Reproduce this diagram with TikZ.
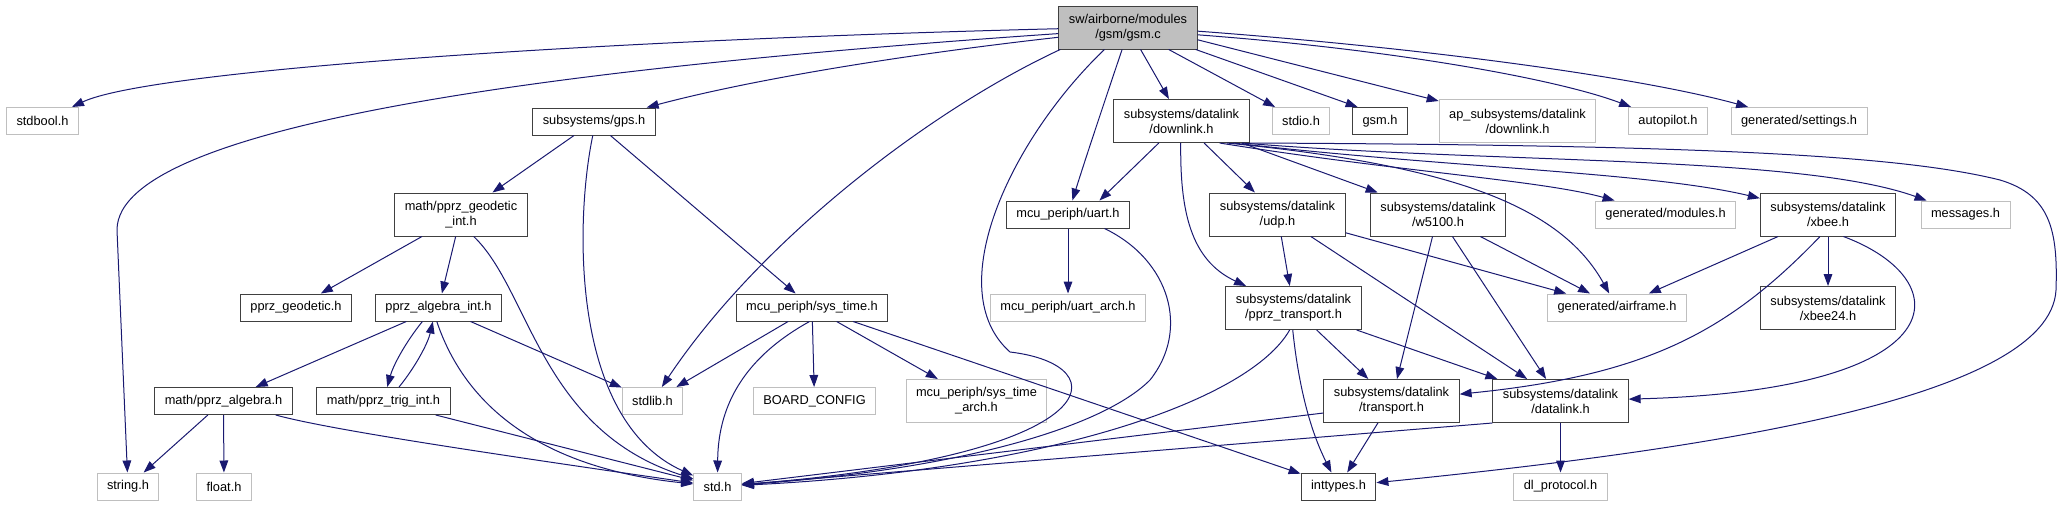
\documentclass[tikz,border=0pt]{standalone}
\usepackage{fontspec}
\setmainfont{Liberation Sans}
\usetikzlibrary{arrows.meta}
\definecolor{edgeblue}{RGB}{25,25,112}
\definecolor{docline}{RGB}{64,64,64}
\definecolor{extline}{RGB}{191,191,191}
\definecolor{rootfill}{RGB}{191,191,191}
\tikzset{
  filebox/.style={draw, line width=0.75pt, align=center, inner xsep=7.5pt, inner ysep=2pt,
                  minimum height=20.25pt, font=\fontsize{9.6}{11.25}\selectfont},
  docbox/.style={filebox, draw=docline},
  extbox/.style={filebox, draw=extline},
  rootbox/.style={filebox, draw=docline, fill=rootfill},
  twoline/.style={minimum height=32.25pt},
  dep/.style={-{Triangle[length=9pt,width=6.5pt]}, line width=0.75pt, draw=edgeblue},
}

\begin{document}
\begin{tikzpicture}[x=0.75pt, y=-0.75pt]
  \useasboundingbox (0,0) rectangle (2072,507);

  % top row
  \node[rootbox, twoline] (gsmc) at (1128,27.5) {sw/airborne/modules\\/gsm/gsm.c};
  \node[extbox] (stdbool) at (42.5,121) {stdbool.h};
  \node[docbox] (gps) at (594,121.5) {subsystems/gps.h};
  \node[docbox, twoline] (downlink) at (1181.5,121) {subsystems/datalink\\/downlink.h};
  \node[extbox] (stdio) at (1301,121) {stdio.h};
  \node[docbox] (gsmh) at (1380,121) {gsm.h};
  \node[extbox, twoline] (apdl) at (1517.5,121) {ap\_subsystems/datalink\\/downlink.h};
  \node[extbox] (autopilot) at (1668,121) {autopilot.h};
  \node[extbox] (settings) at (1799,121) {generated/settings.h};

  % second row
  \node[docbox, twoline] (geoint) at (461,214.5) {math/pprz\_geodetic\\\_int.h};
  \node[docbox] (uart) at (1068,214.5) {mcu\_periph/uart.h};
  \node[docbox, twoline] (udp) at (1277.5,214.5) {subsystems/datalink\\/udp.h};
  \node[docbox, twoline] (w5100) at (1438,214.5) {subsystems/datalink\\/w5100.h};
  \node[extbox] (modules) at (1665.5,214.5) {generated/modules.h};
  \node[docbox, twoline] (xbee) at (1828,214.5) {subsystems/datalink\\/xbee.h};
  \node[extbox] (messages) at (1965.5,214.5) {messages.h};

  % third row
  \node[docbox] (geodetic) at (296,307.5) {pprz\_geodetic.h};
  \node[docbox] (algint) at (438.5,307.5) {pprz\_algebra\_int.h};
  \node[docbox] (systime) at (812,307.5) {mcu\_periph/sys\_time.h};
  \node[extbox] (uartarch) at (1068,307.5) {mcu\_periph/uart\_arch.h};
  \node[docbox, twoline] (pprztr) at (1293.5,308) {subsystems/datalink\\/pprz\_transport.h};
  \node[extbox] (airframe) at (1617,307.5) {generated/airframe.h};
  \node[docbox, twoline] (xbee24) at (1828,308) {subsystems/datalink\\/xbee24.h};

  % fourth row
  \node[docbox] (algebra) at (223.5,401) {math/pprz\_algebra.h};
  \node[docbox] (trigint) at (383.5,401) {math/pprz\_trig\_int.h};
  \node[extbox] (stdlib) at (652.5,401) {stdlib.h};
  \node[extbox] (board) at (814.5,401) {BOARD\_CONFIG};
  \node[extbox, twoline] (systimearch) at (976.5,401) {mcu\_periph/sys\_time\\\_arch.h};
  \node[docbox, twoline] (transport) at (1391.5,401) {subsystems/datalink\\/transport.h};
  \node[docbox, twoline] (datalink) at (1560.5,401) {subsystems/datalink\\/datalink.h};

  % bottom row
  \node[extbox] (strh) at (128,486.5) {string.h};
  \node[extbox] (floath) at (224,486.5) {float.h};
  \node[extbox] (stdh) at (717.5,486.5) {std.h};
  \node[docbox] (inttypes) at (1338.5,486.5) {inttypes.h};
  \node[extbox] (dlproto) at (1560.5,486.5) {dl\_protocol.h};

  % gsm.c
  \draw[dep] (gsmc.181) .. controls (600,40) and (150,70) .. (stdbool);
  \draw[dep] (gsmc.185) .. controls (600,65) and (117,120) .. (117,230) -- (strh);
  \draw[dep] (gsmc.188) .. controls (900,55) and (750,80) .. (gps);
  \draw[dep] (gsmc.198) .. controls (930,110) and (760,240) .. (stdlib);
  \draw[dep] (gsmc.-137) .. controls (1010,140) and (940,290) .. (1010,352)
                         .. controls (1120,365) and (1110,455) .. (stdh);
  \draw[dep] (gsmc.-105) .. controls (1105,100) and (1085,160) .. (uart);
  \draw[dep] (gsmc) -- (downlink);
  \draw[dep] (gsmc) -- (stdio);
  \draw[dep] (gsmc.-18) -- (gsmh.148);
  \draw[dep] (gsmc.-10) -- (apdl);
  \draw[dep] (gsmc.-6) .. controls (1400,50) and (1560,80) .. (autopilot);
  \draw[dep] (gsmc.-3) .. controls (1450,50) and (1650,80) .. (settings);

  % subsystems/gps.h
  \draw[dep] (gps) -- (geoint);
  \draw[dep] (gps.-95) .. controls (575,220) and (570,420) .. (stdh);
  \draw[dep] (gps) -- (systime);

  % math
  \draw[dep] (geoint) -- (geodetic);
  \draw[dep] (geoint) -- (algint);
  \draw[dep] (geoint.-60) .. controls (530,290) and (540,430) .. (stdh);
  \draw[dep] (algint) -- (algebra);
  \draw[dep] (algint.-139) .. controls (405,343) and (393,366) .. (trigint.75);
  \draw[dep] (trigint.42) .. controls (416,366) and (428,343) .. (algint.-112);
  \draw[dep] (algint) -- (stdlib);
  \draw[dep] (algint.-97) .. controls (470,420) and (560,470) .. (stdh);
  \draw[dep] (trigint.-15) -- (stdh);
  \draw[dep] (algebra) -- (strh);
  \draw[dep] (algebra) -- (floath);
  \draw[dep] (algebra.-15) .. controls (330,430) and (500,455) .. (stdh);

  % mcu_periph
  \draw[dep] (systime) -- (stdlib);
  \draw[dep] (systime.-100) .. controls (740,360) and (718,410) .. (stdh);
  \draw[dep] (systime) -- (board);
  \draw[dep] (systime) -- (systimearch);
  \draw[dep] (systime) -- (inttypes);
  \draw[dep] (uart) -- (uartarch);
  \draw[dep] (uart.-21) .. controls (1170,260) and (1190,330) .. (1150,380)
                        .. controls (1100,430) and (950,470) .. (stdh);

  % downlink.h
  \draw[dep] (downlink) -- (uart.24);
  \draw[dep] (downlink.-92) .. controls (1180,210) and (1190,260) .. (pprztr);
  \draw[dep] (downlink) -- (udp);
  \draw[dep] (downlink) -- (w5100);
  \draw[dep] (downlink.-30) .. controls (1400,172) and (1540,180) .. (modules);
  \draw[dep] (downlink.-23) .. controls (1450,168) and (1650,172) .. (xbee);
  \draw[dep] (downlink.-20) .. controls (1500,164) and (1800,155) .. (messages);
  \draw[dep] (downlink.-26) .. controls (1450,165) and (1560,205) .. (airframe);
  \draw[dep] (downlink.-18) .. controls (1700,145) and (1900,155) .. (2000,180)
                            .. controls (2050,195) and (2058,230) .. (2056,290)
                            .. controls (2050,400) and (1700,450) .. (inttypes);

  % datalink
  \draw[dep] (udp) -- (pprztr);
  \draw[dep] (udp.-15) -- (airframe);
  \draw[dep] (udp) -- (datalink);
  \draw[dep] (w5100) -- (transport);
  \draw[dep] (w5100) -- (datalink);
  \draw[dep] (w5100) -- (airframe);
  \draw[dep] (xbee) -- (airframe);
  \draw[dep] (xbee) -- (xbee24);
  \draw[dep] (xbee.-110) .. controls (1730,330) and (1650,375) .. (transport);
  \draw[dep] (xbee.-55) .. controls (1960,280) and (1960,390) .. (datalink);
  \draw[dep] (pprztr.-100) .. controls (1250,400) and (1050,470) .. (stdh);
  \draw[dep] (pprztr.-92) .. controls (1300,400) and (1315,440) .. (inttypes);
  \draw[dep] (pprztr) -- (transport);
  \draw[dep] (pprztr) -- (datalink);
  \draw[dep] (transport.-170) -- (stdh);
  \draw[dep] (transport) -- (inttypes);
  \draw[dep] (datalink.south west) -- (stdh);
  \draw[dep] (datalink) -- (dlproto);
\end{tikzpicture}
\end{document}
